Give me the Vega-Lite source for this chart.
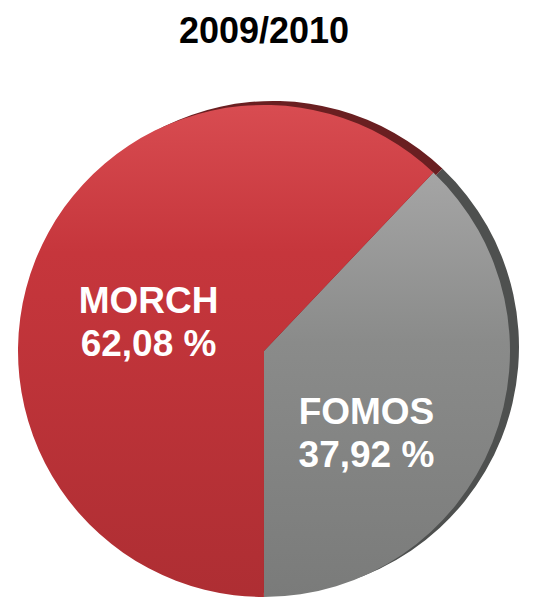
{
  "$schema": "https://vega.github.io/schema/vega-lite/v6.json",
  "width": 500,
  "height": 598,
  "padding": {"left": 14, "top": 14, "right": 0, "bottom": 0},
  "background": "white",
  "title": {"text": "2009/2010", "font": "Liberation Sans", "fontSize": 36, "fontWeight": "bold", "color": "#000000", "anchor": "middle", "offset": 1},
  "data": {"values": [
    {"party": "FOMOS", "share": 37.92, "label": "FOMOS\n37,92 %"},
    {"party": "MORCH", "share": 62.08, "label": "MORCH\n62,08 %"}
  ]},
  "encoding": {
    "theta": {"field": "share", "type": "quantitative", "stack": true, "scale": {"range": [0.7592, 7.0424]}},
    "order": {"field": "party", "sort": "ascending"}
  },
  "layer": [
    {
      "mark": {"type": "arc", "outerRadius": 246, "xOffset": 9, "yOffset": -4},
      "encoding": {
        "color": {"field": "party", "type": "nominal", "scale": {"domain": ["FOMOS", "MORCH"], "range": ["#4e504f", "#6a1f21"]}, "legend": null}
      }
    },
    {
      "mark": {"type": "arc", "outerRadius": 246},
      "encoding": {
        "color": {
          "condition": {"test": "datum.party === 'MORCH'", "value": {"gradient": "linear", "x1": 0, "y1": 0, "x2": 0, "y2": 1, "stops": [{"offset": 0, "color": "#d84c51"}, {"offset": 0.3, "color": "#c6363c"}, {"offset": 1, "color": "#ae2e33"}]}},
          "value": {"gradient": "linear", "x1": 0, "y1": 0, "x2": 0, "y2": 1, "stops": [{"offset": 0, "color": "#a5a5a5"}, {"offset": 0.4, "color": "#8a8b8a"}, {"offset": 1, "color": "#7a7b7a"}]}
        }
      }
    },
    {
      "mark": {"type": "text", "radius": 120, "dy": -5, "dx": -4, "font": "Liberation Sans", "fontSize": 37, "fontWeight": "bold", "lineBreak": "\n", "lineHeight": 43, "color": "#ffffff"},
      "encoding": {"text": {"condition": {"test": "datum.party === 'MORCH'", "field": "label", "type": "nominal"}, "value": ""}}
    },
    {
      "mark": {"type": "text", "radius": 120, "dy": 18, "dx": -9, "font": "Liberation Sans", "fontSize": 37, "fontWeight": "bold", "lineBreak": "\n", "lineHeight": 43, "color": "#ffffff"},
      "encoding": {"text": {"condition": {"test": "datum.party === 'FOMOS'", "field": "label", "type": "nominal"}, "value": ""}}
    }
  ],
  "config": {"view": {"stroke": null}}
}
